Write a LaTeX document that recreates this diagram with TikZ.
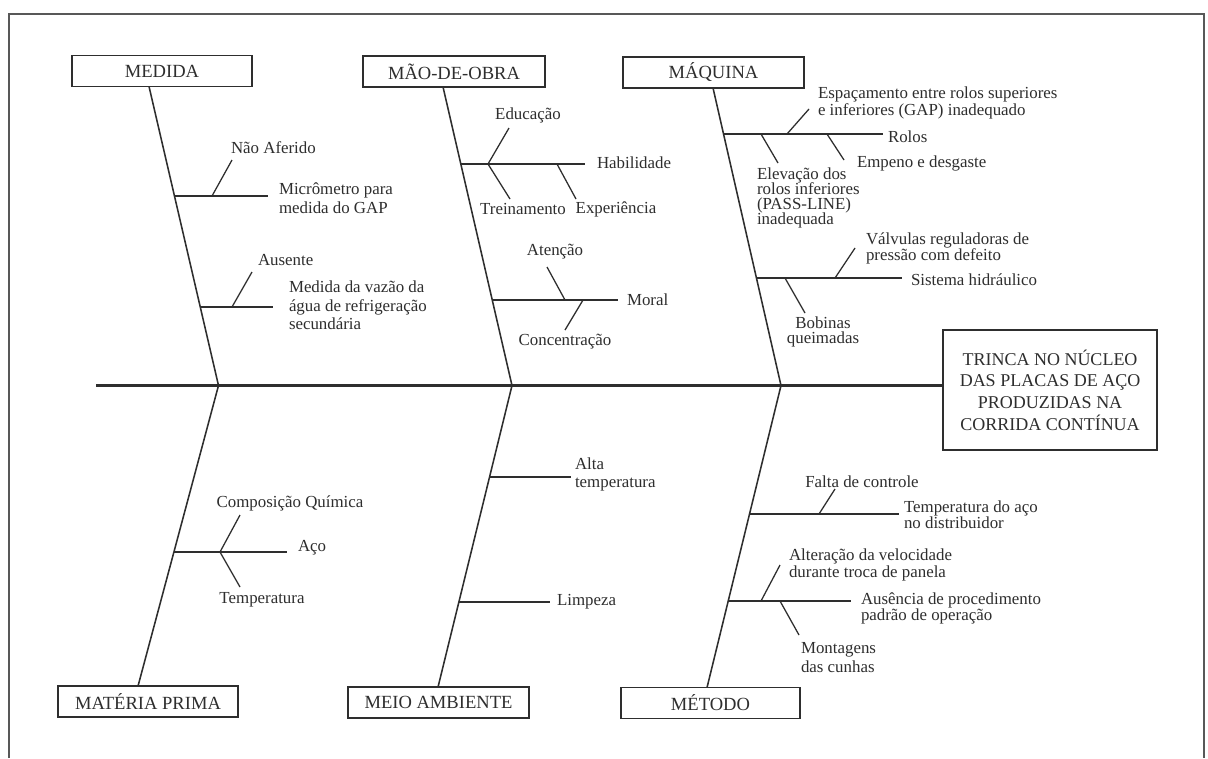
\documentclass[tikz,border=0pt]{standalone}
\usepackage{fontspec}
\setmainfont{Liberation Serif}
\usetikzlibrary{calc}
\definecolor{ink}{HTML}{2E2E2E}
\newcommand\lf[1]{\fontsize{12}{#1}\selectfont\lineskiplimit=-20pt\relax}
\begin{document}
\begin{tikzpicture}[x=0.025cm,y=-0.025cm,
  frameline/.style={draw=ink!80,line width=1.4pt},
  catbox/.style={draw=ink,line width=1.2pt,inner sep=0pt,outer sep=0pt,text=ink,
    font=\fontsize{13.2}{15}\selectfont,minimum height=0.77cm},
  effbox/.style={draw=ink,line width=1.2pt,inner sep=0pt,outer sep=0pt,text=ink,align=center,
    font=\fontsize{12.8}{15.4}\selectfont,minimum width=5.35cm,minimum height=3cm},
  spine/.style={draw=ink,line width=1.6pt},
  bone/.style={draw=ink,line width=1.1pt},
  branch/.style={draw=ink,line width=1pt},
  twig/.style={draw=ink,line width=0.9pt},
  lbl/.style={inner sep=0pt,outer sep=0pt,text=ink,align=left,font=\lf{13.3}}]
\useasboundingbox (0,0) rectangle (1208,758);
\fill[white] (0,0) rectangle (1208,758);
\draw[frameline] (9,758) -- (9,14) -- (1204,14) -- (1204,758);

% category boxes
\node[catbox,minimum width=4.5cm]   (medida) at (162,71)    {MEDIDA};
\node[catbox,minimum width=4.55cm]  (mao)    at (454,71.5)  {MÃO-DE-OBRA};
\node[catbox,minimum width=4.525cm] (maq)    at (713.5,72.5){MÁQUINA};
\node[catbox,minimum width=4.5cm]   (mat)    at (148,701.5) {MATÉRIA PRIMA};
\node[catbox,minimum width=4.525cm] (meio)   at (438.5,702.5){MEIO AMBIENTE};
\node[catbox,minimum width=4.475cm] (met)    at (710.5,703) {MÉTODO};
\node[effbox] (eff) at (1050,390) {TRINCA NO NÚCLEO\\DAS PLACAS DE AÇO\\PRODUZIDAS NA\\CORRIDA CONTÍNUA};

% spine and junctions
\coordinate (tail) at (96,385.5);
\coordinate (jA) at (218.5,385.5);
\coordinate (jB) at (512,385.5);
\coordinate (jC) at (781,385.5);
\draw[spine] (tail) -- (tail -| eff.west);

% main bones
\draw[bone] ($(medida.south)+(-13,0)$) -- (jA);
\draw[bone] ($(mao.south)+(-11,0)$) -- (jB);
\draw[bone] ($(maq.south)+(-0.5,0)$) -- (jC);
\draw[bone] (jA) -- ($(mat.north)+(-10,0)$);
\draw[bone] (jB) -- ($(meio.north)+(-0.5,0)$);
\draw[bone] (jC) -- ($(met.north)+(-3.5,0)$);

% ---------- MEDIDA
\node[lbl,anchor=west] (naoaf) at (231,148) {Não Aferido};
\node[lbl,anchor=west,font=\lf{13.5}] (micro) at (279,198.5) {Micrômetro para\\medida do GAP};
\node[lbl,anchor=west] (ausente) at (258,260) {Ausente};
\node[lbl,anchor=west,font=\lf{13.1}] (vazao) at (289,305.5) {Medida da vazão da\\água de refrigeração\\secundária};
\draw[branch] (174.5,196) coordinate (bA1) -- (268,196) coordinate (eA1);
\draw[twig] (212,196) coordinate (tA1) -- (232,160) coordinate (uA1);
\draw[branch] (200.3,307) coordinate (bA2) -- (273,307) coordinate (eA2);
\draw[twig] (232,307) coordinate (tA2) -- (252,272) coordinate (uA2);

% ---------- MAO-DE-OBRA
\node[lbl] (educ) at (528,115) {Educação};
\node[lbl] (trein) at (523,209) {Treinamento};
\node[lbl] (exper) at (616,209) {Experiência};
\node[lbl,anchor=west] (habil) at (597,163) {Habilidade};
\node[lbl] (atenc) at (555,252) {Atenção};
\node[lbl] (conc) at (565,342) {Concentração};
\node[lbl,anchor=west] (moral) at (627,300) {Moral};
\draw[branch] (460.8,164) coordinate (bB1) -- (585,164) coordinate (eB1);
\draw[twig] (488,164) coordinate (tB1) -- (509,128) coordinate (uB1);
\draw[twig] (tB1) -- (510,199) coordinate (uB2);
\draw[twig] (557,164) coordinate (tB3) -- (576,199) coordinate (uB3);
\draw[branch] (492.2,300) coordinate (bB2) -- (618,300) coordinate (eB2);
\draw[twig] (565,300) coordinate (tB4) -- (547,267) coordinate (uB4);
\draw[twig] (583,300) coordinate (tB5) -- (565,330) coordinate (uB5);

% ---------- MAQUINA
\node[lbl,anchor=west,font=\lf{11.6}] (espac) at (818,103) {Espaçamento entre rolos superiores\\e inferiores (GAP) inadequado};
\node[lbl,anchor=west] (rolos) at (888,137) {Rolos};
\node[lbl,anchor=west] (empeno) at (857,163) {Empeno e desgaste};
\node[lbl,anchor=west,font=\lf{10.8}] (elev) at (757,198) {Elevação dos\\rolos inferiores\\(PASS-LINE)\\inadequada};
\node[lbl,anchor=west,font=\lf{11}] (valv) at (866,248.5) {Válvulas reguladoras de\\pressão com defeito};
\node[lbl,anchor=west] (hidr) at (911,280) {Sistema hidráulico};
\node[lbl,align=center,font=\lf{11}] (bobin) at (823,332) {Bobinas\\queimadas};
\draw[branch] (723.5,134) coordinate (bC1) -- (883,134) coordinate (eC1);
\draw[twig] (787,134) coordinate (tC1) -- (809,109) coordinate (uC1);
\draw[twig] (761,134) coordinate (tC2) -- (778,163) coordinate (uC2);
\draw[twig] (827,134) coordinate (tC3) -- (844,160) coordinate (uC3);
\draw[branch] (756.4,278) coordinate (bC2) -- (902,278) coordinate (eC2);
\draw[twig] (835,278) coordinate (tC4) -- (855,248) coordinate (uC4);
\draw[twig] (785,278) coordinate (tC5) -- (805,313) coordinate (uC5);

% ---------- MATERIA PRIMA
\node[lbl] (comp) at (290,503) {Composição Química};
\node[lbl,anchor=west] (aco) at (298,548) {Aço};
\node[lbl] (tempm) at (262,600) {Temperatura};
\draw[branch] (173.9,552) coordinate (bD1) -- (287,552) coordinate (eD1);
\draw[twig] (220,552) coordinate (tD1) -- (240,515) coordinate (uD1);
\draw[twig] (tD1) -- (240,587) coordinate (uD2);

% ---------- MEIO AMBIENTE
\node[lbl,anchor=west,font=\lf{12.8}] (alta) at (575,474) {Alta\\temperatura};
\node[lbl,anchor=west] (limp) at (557,602) {Limpeza};
\draw[branch] (489.5,477) coordinate (bE1) -- (571,477) coordinate (eE1);
\draw[branch] (458.9,602) coordinate (bE2) -- (550,602) coordinate (eE2);

% ---------- METODO
\node[lbl] (falta) at (862,482) {Falta de controle};
\node[lbl,anchor=west,font=\lf{11.6}] (tempa) at (904,515) {Temperatura do aço\\no distribuidor};
\node[lbl,anchor=west,font=\lf{11.6}] (alter) at (789,565) {Alteração da velocidade\\durante troca de panela};
\node[lbl,anchor=west,font=\lf{11.3}] (ausen) at (861,608.5) {Ausência de procedimento\\padrão de operação};
\node[lbl,anchor=west,font=\lf{13.5}] (mont) at (801,657.5) {Montagens\\das cunhas};
\draw[branch] (749.6,514) coordinate (bF1) -- (899,514) coordinate (eF1);
\draw[twig] (819,514) coordinate (tF1) -- (835,489) coordinate (uF1);
\draw[branch] (728.3,601) coordinate (bF2) -- (851,601) coordinate (eF2);
\draw[twig] (761,601) coordinate (tF2) -- (780,565) coordinate (uF2);
\draw[twig] (780,601) coordinate (tF3) -- (799,635) coordinate (uF3);
\end{tikzpicture}
\end{document}
